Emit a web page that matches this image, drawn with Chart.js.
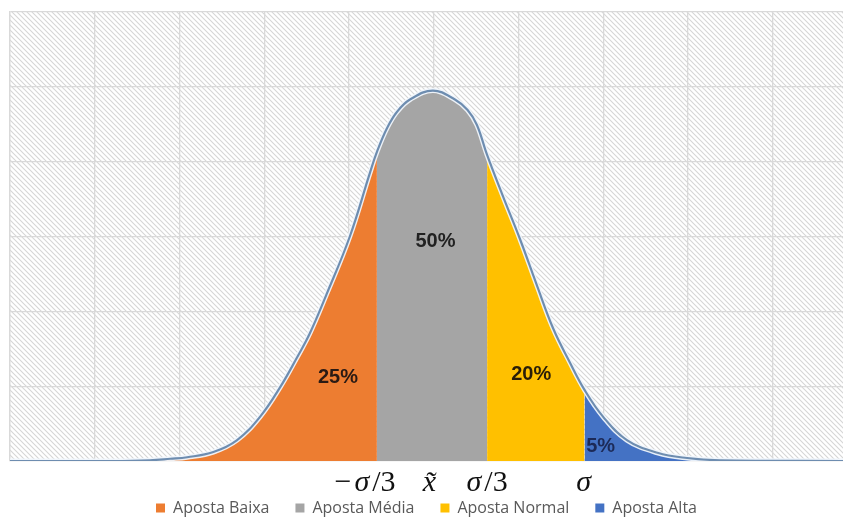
<!DOCTYPE html>
<html>
<head>
<meta charset="utf-8">
<title>Distribuição das apostas</title>
<script src="https://cdn.jsdelivr.net/npm/chart.js@4.4.1/dist/chart.umd.min.js"></script>
<style>
  html, body { margin: 0; padding: 0; background: #ffffff; }
  #wrap { width: 843px; height: 517px; position: relative; }
</style>
</head>
<body>
<div id="wrap"><canvas id="bellChart"></canvas></div>
<script>
// ------------------------------------------
// Data
// ------------------------------------------
// bell curve, x in grid columns, y in grid rows
const curveX = [0, 1.20, 1.65, 1.89, 2.09, 2.40, 2.68, 2.95, 3.19, 3.39, 3.54, 3.74, 4.01, 4.25, 4.33,
                4.45, 4.57, 4.72, 4.99, 5.25, 5.40, 5.51, 5.63, 5.82, 6.02, 6.22, 6.41, 6.61,
                6.78, 7.00, 7.28, 7.64, 7.99, 8.38, 9.83];
const curveY = [0, 0, 0.01, 0.03, 0.05, 0.12, 0.28, 0.59, 0.99, 1.39, 1.71, 2.24, 3.00, 3.86, 4.13,
                4.45, 4.67, 4.83, 4.95, 4.83, 4.69, 4.49, 4.09, 3.53, 2.96, 2.34, 1.77, 1.31,
                0.95, 0.59, 0.28, 0.11, 0.04, 0.01, 0];

const segNames  = ['Aposta Baixa', 'Aposta Média', 'Aposta Normal', 'Aposta Alta'];
const segStart  = [1.65, 4.33, 5.63, 6.78];
const segEnd    = [4.33, 5.63, 6.78, 8.38];
const segShares = ['25%', '50%', '20%', '5%'];

const markLabels = ['−σ/3', 'x̃', 'σ/3', 'σ'];

// ------------------------------------------
// Styling / label anchors
// ------------------------------------------
const segColors   = ['#ED7D31', '#A5A5A5', '#FFC000', '#4472C4'];
const shareColors = ['#2a1a14', '#222222', '#2a1e08', '#1c2a58'];
const shareAt     = [[3.87, 1.11], [5.02, 2.93], [6.15, 1.15], [6.97, 0.19]];
const markAt      = [4.19, 4.95, 5.63, 6.77];

// pieces of each math label: [text, italic]
const markRuns = {
  '−σ/3': [['−', false], ['σ', true], ['/3', false]],
  'x̃':    [['x̃', true]],
  'σ/3':  [['σ', true], ['/3', false]],
  'σ':    [['σ', true]]
};

const curvePoints = curveX.map((x, i) => ({ x: x, y: curveY[i] }));

function segmentPoints(i) {
  return curvePoints.filter(p => p.x >= segStart[i] - 1e-9 && p.x <= segEnd[i] + 1e-9);
}

// ------------------------------------------
// Plugins
// ------------------------------------------
function makeHatch() {
  const s = 5;
  const c = document.createElement('canvas');
  c.width = s; c.height = s;
  const g = c.getContext('2d');
  g.fillStyle = '#ffffff';
  g.fillRect(0, 0, s, s);
  g.strokeStyle = '#d6d6d6';
  g.lineWidth = 1.1;
  g.beginPath();
  g.moveTo(0, 0); g.lineTo(s, s);
  g.moveTo(-1, s - 1); g.lineTo(1, s + 1);
  g.moveTo(s - 1, -1); g.lineTo(s + 1, 1);
  g.stroke();
  return c;
}

const hatchBackground = {
  id: 'hatchBackground',
  beforeDraw(chart) {
    const { ctx, chartArea } = chart;
    ctx.save();
    ctx.fillStyle = ctx.createPattern(makeHatch(), 'repeat');
    ctx.fillRect(chartArea.left, chartArea.top, chartArea.right - chartArea.left, chartArea.bottom - chartArea.top);
    ctx.restore();
  }
};

const shareLabels = {
  id: 'shareLabels',
  afterDatasetsDraw(chart) {
    const { ctx, scales } = chart;
    ctx.save();
    ctx.font = 'bold 20px "Liberation Sans", Arial, sans-serif';
    ctx.textAlign = 'center';
    ctx.textBaseline = 'middle';
    segShares.forEach((txt, i) => {
      ctx.fillStyle = shareColors[i];
      ctx.fillText(txt, scales.x.getPixelForValue(shareAt[i][0]), scales.y.getPixelForValue(shareAt[i][1]));
    });
    ctx.restore();
  }
};

const mathMarks = {
  id: 'mathMarks',
  afterDraw(chart) {
    const { ctx, scales } = chart;
    const base = scales.y.getPixelForValue(0) + 30;
    const fontFor = it => (it ? 'italic ' : '') + '30px "Liberation Serif", "DejaVu Serif", serif';
    ctx.save();
    ctx.fillStyle = '#111111';
    ctx.textBaseline = 'alphabetic';
    ctx.textAlign = 'left';
    markLabels.forEach((lbl, i) => {
      const runs = markRuns[lbl];
      const gap = 3;
      let total = 0;
      runs.forEach(r => { ctx.font = fontFor(r[1]); total += ctx.measureText(r[0]).width; });
      total += gap * (runs.length - 1);
      let x = scales.x.getPixelForValue(markAt[i]) - total / 2;
      runs.forEach(r => {
        ctx.font = fontFor(r[1]);
        ctx.fillText(r[0], x, base);
        x += ctx.measureText(r[0]).width + gap;
      });
    });
    ctx.restore();
  }
};

// ------------------------------------------
// Chart
// ------------------------------------------
const datasets = [
  {
    label: 'curve',
    data: curvePoints,
    borderColor: '#6e8db0',
    borderWidth: 2.2,
    pointRadius: 0,
    fill: false,
    tension: 0.4
  },
  {
    label: 'halo',
    data: curvePoints,
    borderColor: 'rgba(240, 246, 252, 0.95)',
    borderWidth: 5,
    pointRadius: 0,
    fill: false,
    tension: 0.4
  }
];

segNames.forEach((name, i) => {
  datasets.push({
    label: name,
    data: segmentPoints(i),
    backgroundColor: segColors[i],
    borderColor: segColors[i],
    borderWidth: 0,
    pointRadius: 0,
    fill: 'origin',
    tension: 0.4
  });
});

new Chart(document.getElementById('bellChart'), {
  type: 'line',
  data: { datasets: datasets },
  options: {
    responsive: true,
    maintainAspectRatio: false,
    animation: false,
    events: [],
    layout: { padding: { left: 10, right: 0, top: 12, bottom: 0 } },
    plugins: {
      tooltip: { enabled: false },
      legend: {
        position: 'bottom',
        maxHeight: 43,
        labels: {
          boxWidth: 9,
          boxHeight: 9,
          padding: 26,
          color: '#595959',
          font: { family: '"Open Sans", sans-serif', size: 16 },
          generateLabels: chart => segNames.map((name, i) => ({
            text: name,
            fillStyle: segColors[i],
            strokeStyle: segColors[i],
            fontColor: '#595959',
            lineWidth: 0,
            hidden: false,
            datasetIndex: i + 2
          }))
        }
      }
    },
    scales: {
      x: {
        type: 'linear',
        min: 0,
        max: 9.83,
        afterFit: scale => { scale.height = 13; },
        grid: { color: '#d9d9d9', lineWidth: 1.3, drawTicks: false },
        border: { display: false },
        ticks: { display: false, stepSize: 1, includeBounds: false }
      },
      y: {
        min: 0,
        max: 6,
        afterFit: scale => { scale.width = 0; },
        grid: { color: '#d9d9d9', lineWidth: 1.3, drawTicks: false },
        border: { display: true, color: '#d9d9d9', width: 1.3 },
        ticks: { display: false, stepSize: 1 }
      }
    }
  },
  plugins: [hatchBackground, shareLabels, mathMarks]
});
</script>
</body>
</html>
